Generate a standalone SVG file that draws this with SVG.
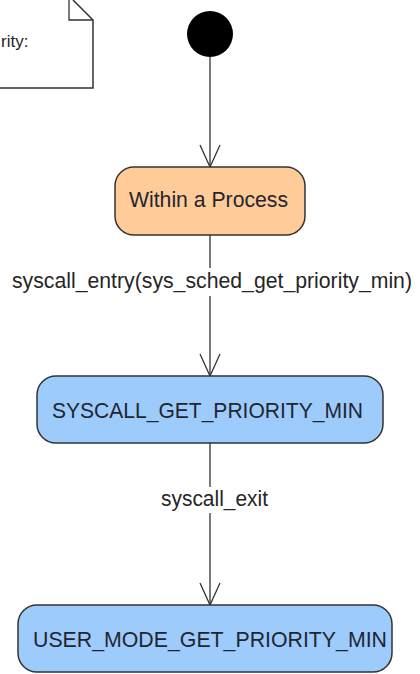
<svg xmlns="http://www.w3.org/2000/svg" width="420" height="674" viewBox="0 0 420 674">
  <style>
    .state { stroke: #333333; stroke-width: 1.5; }
    .orange { fill: #FFCB98; }
    .blue { fill: #9DCBFC; }
    .label { font-family: "Liberation Sans", Arial, sans-serif; font-size: 21.3px; fill: #262626; }
    .inside { fill: #1f2630; }
    .edge { stroke: #333333; stroke-width: 1.3; fill: none; }
  </style>
  <defs>
    <!-- open V arrowhead, tip at the end of the line -->
    <marker id="open" viewBox="0 0 24 22" refX="23" refY="11" markerWidth="24" markerHeight="22" markerUnits="userSpaceOnUse" orient="auto">
      <path d="M1,1 L23,11 L1,21" fill="none" stroke="#333333" stroke-width="1.3"/>
    </marker>
  </defs>
  <rect width="420" height="674" fill="#ffffff"/>

  <g id="note">
    <path d="M-2,88 L93,88 L93,20 L73,0" fill="#ffffff" stroke="#333333" stroke-width="1.5"/>
    <path d="M69,0 L69,20 L93,20" fill="none" stroke="#333333" stroke-width="1.3"/>
    <text class="label" x="1" y="47" style="font-size:17px">rity:</text>
  </g>

  <g id="connectors">
    <line class="edge" x1="210" y1="57" x2="210" y2="167" marker-end="url(#open)"/>
    <line class="edge" x1="210" y1="235" x2="210" y2="376" marker-end="url(#open)"/>
    <line class="edge" x1="210" y1="443" x2="210" y2="605" marker-end="url(#open)"/>
    <rect x="10" y="268" width="404" height="28" fill="#ffffff"/>
    <text class="label" x="212" y="288" text-anchor="middle" textLength="400" lengthAdjust="spacingAndGlyphs">syscall_entry(sys_sched_get_priority_min)</text>
    <rect x="158" y="487" width="112" height="26" fill="#ffffff"/>
    <text class="label" x="214.5" y="506" text-anchor="middle" textLength="107" lengthAdjust="spacingAndGlyphs">syscall_exit</text>
  </g>

  <g id="start">
    <circle cx="210" cy="34" r="23" fill="#000000"/>
  </g>

  <g id="within">
    <rect class="state orange" x="115" y="167" width="190" height="68" rx="19"/>
    <text class="label inside" x="208.5" y="207" text-anchor="middle" textLength="159" lengthAdjust="spacingAndGlyphs">Within a Process</text>
  </g>

  <g id="syscall">
    <rect class="state blue" x="37" y="376" width="346" height="67" rx="19"/>
    <text class="label inside" x="207.5" y="418" text-anchor="middle" textLength="311" lengthAdjust="spacingAndGlyphs">SYSCALL_GET_PRIORITY_MIN</text>
  </g>

  <g id="usermode">
    <rect class="state blue" x="18" y="605" width="374" height="67" rx="19"/>
    <text class="label inside" x="210" y="647" text-anchor="middle" textLength="354" lengthAdjust="spacingAndGlyphs">USER_MODE_GET_PRIORITY_MIN</text>
  </g>
</svg>
